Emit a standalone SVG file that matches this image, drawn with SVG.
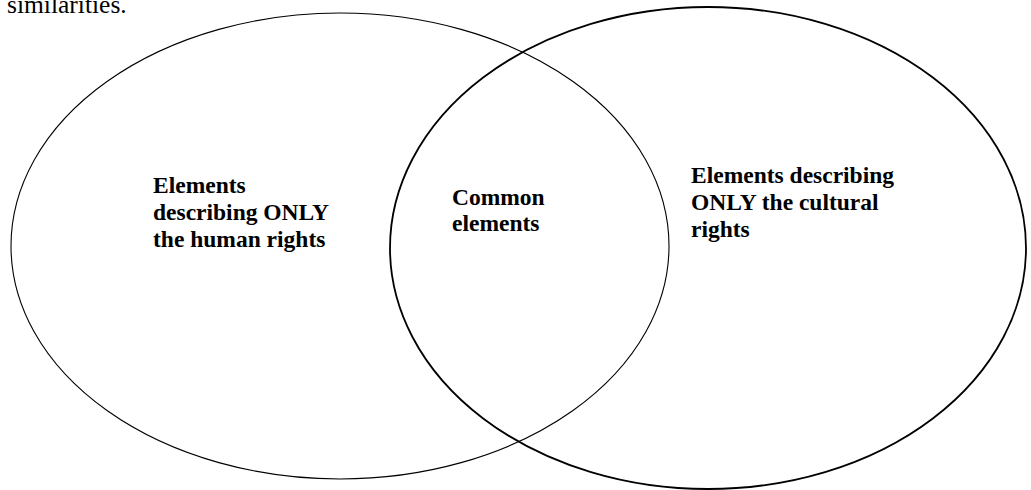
<svg xmlns="http://www.w3.org/2000/svg" width="1031" height="490" viewBox="0 0 1031 490">
<style>
.lbl{font-family:"Liberation Serif","Times New Roman",serif;font-weight:bold;font-size:23.5px;fill:#000}
.cap{font-family:"Liberation Serif","Times New Roman",serif;font-size:25.5px;fill:#000}
.ell{fill:none;stroke:#000}
</style>
<rect width="1031" height="490" fill="#fff"/>
<text class="cap" x="7" y="13">similarities.</text>
<g id="human-rights">
<ellipse class="ell" cx="340" cy="246" rx="329" ry="233" stroke-width="1.1"/>
<text class="lbl" x="153"><tspan x="153" y="193">Elements</tspan><tspan x="153" y="220">describing ONLY</tspan><tspan x="153" y="247">the human rights</tspan></text>
</g>
<g id="cultural-rights">
<ellipse class="ell" cx="708" cy="248" rx="318" ry="241" stroke-width="1.8"/>
<text class="lbl" x="691"><tspan x="691" y="183">Elements describing</tspan><tspan x="691" y="210">ONLY the cultural</tspan><tspan x="691" y="237">rights</tspan></text>
</g>
<g id="common">
<text class="lbl" x="452"><tspan x="452" y="205">Common</tspan><tspan x="452" y="231">elements</tspan></text>
</g>
<g id="connectors"></g>
</svg>
